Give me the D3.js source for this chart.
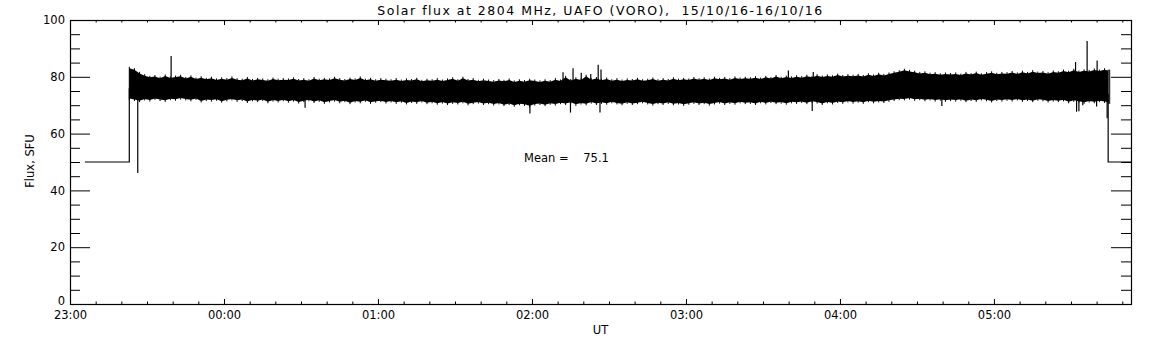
<!DOCTYPE html>
<html>
<head>
<meta charset="utf-8">
<script src="https://cdn.jsdelivr.net/npm/d3@7"></script>
<style>
  body { margin: 0; background: #fff; }
  svg { display: block; }
  text { font-family: "DejaVu Sans", sans-serif; fill: #000; }
</style>
</head>
<body>
<div id="chart"></div>
<script>
// time is minutes after 23:00 UT on 15/10/16
var title = "Solar flux at 2804 MHz, UAFO (VORO),  15/10/16-16/10/16"
var meanText = "Mean =    75.1"
var xTickMinutes = [0, 60, 120, 180, 240, 300, 360]
var yTicks = [0, 20, 40, 60, 80, 100]

// flat level before and after the observation
var leadT = [5.8, 23.1, 23.1]
var leadV = [50, 50, 76]
var tailT = [404.5, 404.5, 413.4]
var tailV = [74, 50, 50]

// band envelope, one pair every 2 minutes starting at 23:23
var bandStart = 23.1
var bandStep = 2
var bandHi = [
    83.0, 82.5, 81.2, 80.4, 79.8, 80.1, 79.5, 80.3, 79.6, 79.9, 80.2,
    79.4, 80.0, 79.2, 79.7, 79.1, 79.5, 78.9, 79.3, 79.0, 79.6,
    79.0, 78.8, 79.4, 78.7, 79.1, 78.9, 78.6, 79.2, 78.8, 79.0,
    78.9, 79.3, 78.7, 79.0, 78.6, 79.4, 78.8, 79.1, 78.9, 79.5,
    79.0, 78.7, 79.2, 78.9, 79.6, 78.8, 79.1, 78.6, 79.0, 78.8,
    78.6, 79.0, 78.5, 78.9, 78.7, 79.1, 78.4, 78.8, 78.6, 79.0,
    78.5, 78.9, 79.3, 78.6, 79.5, 78.7, 79.0, 78.4, 78.8, 78.5,
    78.3, 78.7, 78.4, 78.9, 78.2, 78.6, 78.3, 78.8, 78.5, 78.2,
    78.6, 78.3, 79.0, 78.5, 79.8, 78.7, 79.3, 78.9, 80.2, 79.0,
    79.4, 78.8, 79.2, 78.6, 79.0, 78.5, 78.9, 78.7, 79.1, 78.6,
    78.8, 79.2, 78.6, 79.0, 78.7, 79.3, 78.8, 79.1, 78.9, 79.4,
    79.0, 79.3, 78.9, 79.5, 79.1, 79.4, 79.0, 79.6, 79.2, 79.5,
    79.3, 79.7, 79.2, 79.8, 79.4, 80.1, 79.5, 79.9, 79.6, 80.0,
    79.7, 80.2, 79.8, 80.4, 79.9, 80.3, 80.0, 80.6, 80.1, 80.4,
    80.2, 80.5, 80.1, 80.7, 80.3, 80.9, 80.5, 81.0, 81.4, 81.8,
    82.3, 81.9, 81.6, 81.2, 81.4, 80.9, 81.1, 80.7, 81.0, 80.8,
    81.0, 80.6, 81.2, 80.8, 81.3, 80.7, 81.1, 81.4, 80.9, 81.2,
    81.1, 81.5, 81.0, 81.6, 81.2, 81.8, 81.3, 81.5, 81.1, 81.7,
    81.4, 82.0, 81.6, 82.3, 81.7, 82.1, 81.9, 82.4, 82.0, 82.5,
    82.0
]
var bandLo = [
    72.4, 72.0, 71.6, 72.2, 71.8, 72.4, 72.0, 71.7, 72.3, 72.1, 72.5,
    72.2, 71.9, 72.4, 71.5, 72.0, 71.8, 72.1, 71.4, 71.9, 72.2,
    71.7, 72.0, 71.3, 71.9, 71.6, 72.0, 71.2, 71.8, 71.5, 71.9,
    71.4, 71.8, 71.1, 71.6, 71.9, 71.3, 71.7, 71.0, 71.5, 71.8,
    71.2, 71.6, 70.9, 71.5, 71.2, 71.7, 71.0, 71.4, 71.6, 71.1,
    71.5, 71.0, 71.4, 70.8, 71.3, 71.0, 71.5, 70.9, 71.2, 70.7,
    71.1, 70.6, 71.0, 70.8, 71.2, 70.5, 70.9, 71.1, 70.6, 70.9,
    70.4, 70.8, 70.2, 70.6, 70.0, 70.5, 70.3, 69.8, 70.4, 70.6,
    70.2, 70.7, 70.4, 70.9, 70.6, 71.0, 70.3, 70.8, 70.5, 71.1,
    70.6, 71.0, 70.7, 71.2, 70.8, 70.5, 71.0, 70.6, 70.9, 71.2,
    70.8, 70.4, 70.9, 70.6, 71.0, 70.5, 70.8, 70.3, 70.7, 71.0,
    70.6, 70.9, 70.4, 70.8, 71.1, 70.6, 71.0, 70.7, 71.2, 70.9,
    71.0, 70.6, 71.2, 70.8, 71.3, 70.9, 71.1, 70.7, 71.2, 71.0,
    71.3, 70.9, 71.4, 71.1, 70.6, 71.2, 70.8, 71.3, 71.0, 71.5,
    71.1, 71.4, 71.0, 71.6, 71.2, 71.5, 71.3, 71.7, 72.0, 72.3,
    72.2, 72.5, 72.1, 72.3, 71.9, 72.2, 71.8, 72.1, 71.7, 72.0,
    71.8, 72.1, 71.6, 72.0, 71.7, 72.2, 71.9, 71.5, 72.0, 71.8,
    72.1, 71.8, 72.2, 71.7, 72.0, 71.6, 72.1, 71.9, 71.5, 71.8,
    71.6, 71.9, 71.2, 71.7, 71.4, 71.0, 71.5, 71.2, 71.6, 71.3,
    71.0
]

// single samples sticking out of the band
var spikeT = [26.4, 39.4, 91.6, 179.2, 192.1, 195.0, 196.0, 199.2, 202.9, 205.8, 206.5, 206.9,
              279.9, 289.2, 289.6, 339.7, 391.8, 392.2, 393.1, 394.6, 396.3, 400.0, 400.2, 404.1]
var spikeV = [46.1, 87.3, 69.1, 67.1, 81.6, 67.4, 83.0, 81.4, 81.0, 84.2, 67.4, 82.6,
              82.2, 68.0, 81.7, 69.7, 85.2, 67.7, 67.9, 70.0, 92.6, 69.5, 85.7, 65.4]

var width = 1152, height = 345
var margin = { top: 20, right: 21, bottom: 41, left: 70 }

var svg = d3.select("#chart").append("svg")
    .attr("width", width)
    .attr("height", height)

var x = d3.scaleLinear()
    .domain([0, 413.4])
    .range([margin.left, width - margin.right])

var y = d3.scaleLinear()
    .domain([0, 100])
    .range([height - margin.bottom, margin.top])

var hhmm = m => d3.format("02d")((23 + m / 60) % 24) + ":00"

var xMinor = d3.range(10, 413, 10).filter(m => m % 60 != 0)
var yMinor = d3.range(5, 100, 5).filter(v => v % 20 != 0)

// axes: IDL style box with inward ticks
function styleAxis(g) {
    g.select(".domain").remove()
    g.selectAll("line").attr("stroke", "#000")
    g.selectAll("text").style("font-size", "11.5px").style("font-family", "DejaVu Sans")
}

svg.append("g")
    .attr("transform", `translate(${margin.left},0)`)
    .call(d3.axisLeft(y).tickValues(yTicks).tickSize(-20).tickPadding(5))
    .call(styleAxis)
    .call(g => g.selectAll(".tick text").filter(d => d == 0).attr("dy", "0"))
svg.append("g")
    .attr("transform", `translate(${margin.left},0)`)
    .call(d3.axisLeft(y).tickValues(yMinor).tickSize(-10).tickFormat(""))
    .call(styleAxis)
svg.append("g")
    .attr("transform", `translate(${width - margin.right},0)`)
    .call(d3.axisRight(y).tickValues(yTicks).tickSize(-20).tickFormat(""))
    .call(styleAxis)
svg.append("g")
    .attr("transform", `translate(${width - margin.right},0)`)
    .call(d3.axisRight(y).tickValues(yMinor).tickSize(-10).tickFormat(""))
    .call(styleAxis)

svg.append("g")
    .attr("transform", `translate(0,${height - margin.bottom})`)
    .call(d3.axisBottom(x).tickValues(xTickMinutes).tickSize(-5).tickPadding(7).tickFormat(hhmm))
    .call(styleAxis)
svg.append("g")
    .attr("transform", `translate(0,${height - margin.bottom})`)
    .call(d3.axisBottom(x).tickValues(xMinor).tickSize(-2.5).tickFormat(""))
    .call(styleAxis)
svg.append("g")
    .attr("transform", `translate(0,${margin.top})`)
    .call(d3.axisTop(x).tickValues(xTickMinutes).tickSize(-5).tickFormat(""))
    .call(styleAxis)
svg.append("g")
    .attr("transform", `translate(0,${margin.top})`)
    .call(d3.axisTop(x).tickValues(xMinor).tickSize(-2.5).tickFormat(""))
    .call(styleAxis)

// frame
svg.append("rect")
    .attr("x", x.range()[0] + 0.5)
    .attr("y", y.range()[1] + 0.5)
    .attr("width", x.range()[1] - x.range()[0])
    .attr("height", y.range()[0] - y.range()[1])
    .attr("fill", "none")
    .attr("stroke", "#000")
    .attr("stroke-width", 1.2)

// data
var bandPts = bandHi.map((h, i) => ({ t: bandStart + i * bandStep, hi: h, lo: bandLo[i] }))
bandPts.push({ t: tailT[0], hi: bandHi[bandHi.length - 1], lo: bandLo[bandLo.length - 1] })

var area = d3.area()
    .x(d => x(d.t))
    .y0(d => y(d.lo))
    .y1(d => y(d.hi))

svg.append("path")
    .datum(bandPts)
    .attr("d", area)
    .attr("fill", "#000")

// each envelope sample as a short hair, like the raw trace
svg.append("g").selectAll("line")
    .data(bandPts)
    .join("line")
    .attr("x1", d => x(d.t))
    .attr("x2", d => x(d.t))
    .attr("y1", d => y(d.lo) + 1.5)
    .attr("y2", d => y(d.hi) - 1.5)
    .attr("stroke", "#000")
    .attr("stroke-width", 1)

var line = d3.line()
    .x(d => x(d[0]))
    .y(d => y(d[1]))

svg.append("path")
    .attr("d", line(d3.zip(leadT, leadV)))
    .attr("fill", "none").attr("stroke", "#000").attr("stroke-width", 1.2)
svg.append("path")
    .attr("d", line(d3.zip(tailT, tailV)))
    .attr("fill", "none").attr("stroke", "#000").attr("stroke-width", 1.2)

svg.append("g").selectAll("line")
    .data(d3.zip(spikeT, spikeV))
    .join("line")
    .attr("x1", d => x(d[0]))
    .attr("x2", d => x(d[0]))
    .attr("y1", y(75))
    .attr("y2", d => y(d[1]))
    .attr("stroke", "#000")
    .attr("stroke-width", 1.2)

// texts
svg.append("text")
    .attr("x", (x.range()[0] + x.range()[1]) / 2)
    .attr("y", 14.5)
    .attr("text-anchor", "middle")
    .style("font-size", "12.5px")
    .style("letter-spacing", "1.5px")
    .style("white-space", "pre")
    .text(title)

svg.append("text")
    .attr("x", (x.range()[0] + x.range()[1]) / 2)
    .attr("y", 334)
    .attr("text-anchor", "middle")
    .style("font-size", "11.5px")
    .text("UT")

svg.append("text")
    .attr("transform", "translate(34,161) rotate(-90)")
    .attr("text-anchor", "middle")
    .style("font-size", "11.5px")
    .text("Flux, SFU")

svg.append("text")
    .attr("x", 524)
    .attr("y", 161.5)
    .style("font-size", "11.5px")
    .style("white-space", "pre")
    .text(meanText)
</script>
</body>
</html>
